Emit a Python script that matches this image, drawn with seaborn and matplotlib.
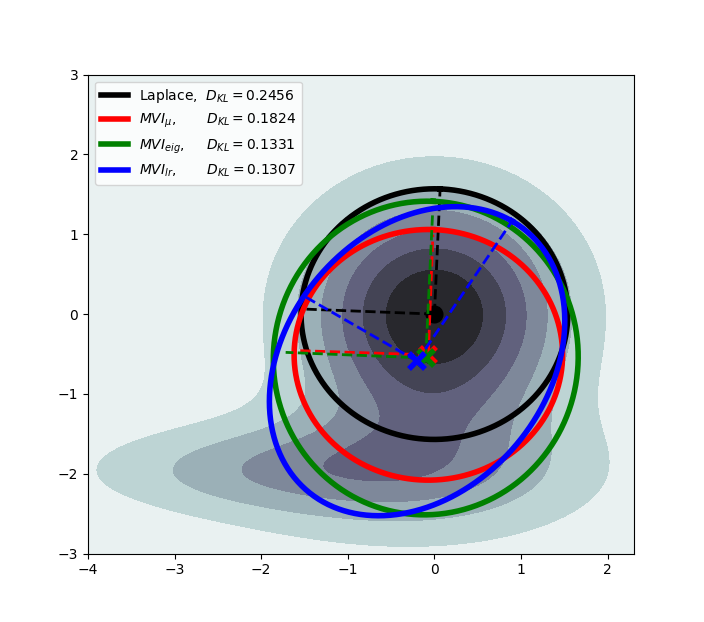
import numpy as np
import pandas as pd
import seaborn as sns
import matplotlib.pyplot as plt

# target density, unnormalised mixture of gaussians
mix_mx = [0.0, -2.0, -0.3]
mix_my = [0.0, -1.95, -2.0]
mix_sx = [1.0, 1.5, 1.6]
mix_sy = [1.0, 0.38, 0.65]
mix_w = [1.0, 0.26, 0.33]

# gaussian approximations
names = ['Laplace', r'$MVI_{\mu}$', r'$MVI_{eig}$', r'$MVI_{lr}$']
kl = [0.2456, 0.1824, 0.1331, 0.1307]
cx = [0.0, -0.07, -0.10, -0.20]
cy = [0.0, -0.51, -0.55, -0.59]
semi1 = [1.57, 1.57, 1.965, 2.07]
semi2 = [1.54, 1.55, 1.76, 1.54]
angle = [87.6, 88.0, 87.5, 58.0]
dash_frac = [1.0, 0.96, 0.92, 0.99]

colors = ['black', 'red', 'green', 'blue']
pads = [2, 7, 5, 7]
n_bands = 7

xs = np.linspace(-4, 2.3, 400)
ys = np.linspace(-3, 3, 400)
X, Y = np.meshgrid(xs, ys)
Z = np.zeros_like(X)
for mx, my, sx, sy, w in zip(mix_mx, mix_my, mix_sx, mix_sy, mix_w):
    Z += w * np.exp(-0.5 * ((X - mx) / sx) ** 2 - 0.5 * ((Y - my) / sy) ** 2)

# bone_r bands, faded a little towards white
cmap = sns.color_palette('bone_r', as_cmap=True)
band_cols = [tuple(0.9 * np.array(cmap((k + 0.5) / n_bands)[:3]) + 0.1)
             for k in range(n_bands)]

fig, ax = plt.subplots(figsize=(7.04, 6.22), dpi=100)
ax.contourf(X, Y, Z, levels=np.linspace(0, Z.max(), n_bands + 1), colors=band_cols)

t = np.linspace(0, 2 * np.pi, 300)
for i in range(len(names)):
    th = np.deg2rad(angle[i])
    u1 = np.array([np.cos(th), np.sin(th)])
    u2 = np.array([-np.sin(th), np.cos(th)])
    ex = cx[i] + semi1[i] * np.cos(t) * u1[0] + semi2[i] * np.sin(t) * u2[0]
    ey = cy[i] + semi1[i] * np.cos(t) * u1[1] + semi2[i] * np.sin(t) * u2[1]
    lab = f"{names[i]},{' ' * pads[i]}$D_{{KL}} = {kl[i]:.4f}$"
    sns.lineplot(x=ex, y=ey, sort=False, estimator=None, color=colors[i],
                 lw=4, label=lab, ax=ax)
    for u, s in [(u1, semi1[i]), (u2, semi2[i])]:
        d = s * dash_frac[i]
        ax.plot([cx[i], cx[i] + d * u[0]], [cy[i], cy[i] + d * u[1]],
                '--', color=colors[i], lw=2)
    if i == 0:
        ax.plot(cx[i], cy[i], 'o', color=colors[i], ms=12)
    else:
        ax.plot(cx[i], cy[i], 'x', color=colors[i], ms=12, mew=4)

ax.set_xlim(-4, 2.3)
ax.set_ylim(-3, 3)
ax.legend(loc='upper left')
fig.savefig('out.png', dpi=100)
